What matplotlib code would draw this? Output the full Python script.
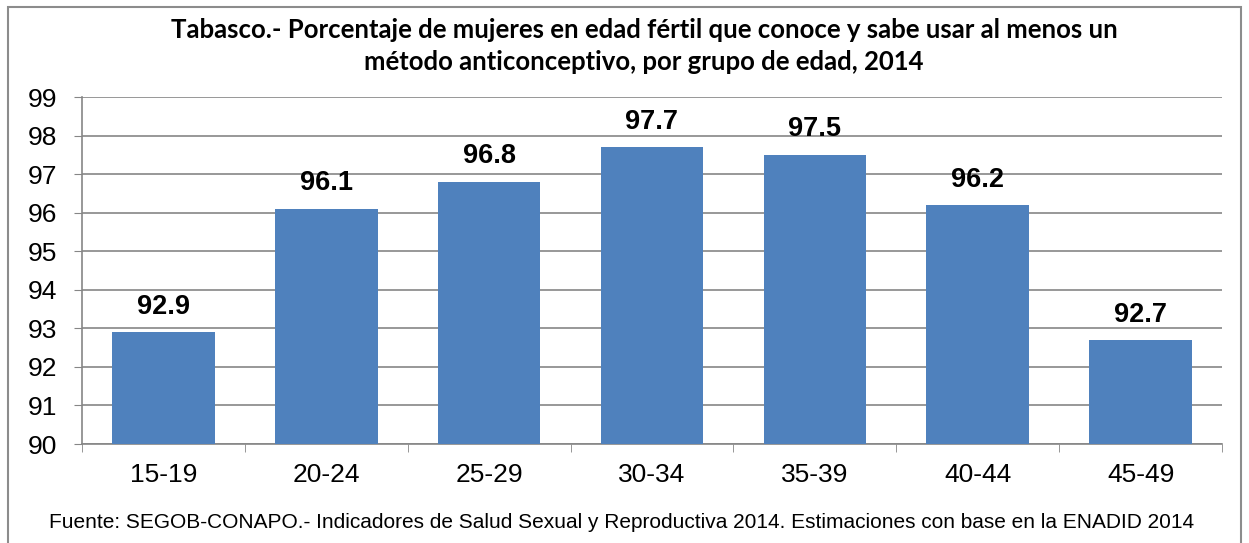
import matplotlib
matplotlib.use("Agg")
import matplotlib.pyplot as plt
from matplotlib.patches import Rectangle

grupos = ["15-19", "20-24", "25-29", "30-34", "35-39", "40-44", "45-49"]
porcentajes = [92.9, 96.1, 96.8, 97.7, 97.5, 96.2, 92.7]
yticks = [90, 91, 92, 93, 94, 95, 96, 97, 98, 99]

titulo = ("Tabasco.- Porcentaje de mujeres en edad fértil que conoce y sabe usar al menos un\n"
          "método anticonceptivo, por grupo de edad, 2014")
fuente = ("Fuente: SEGOB-CONAPO.- Indicadores de Salud Sexual y Reproductiva 2014. "
          "Estimaciones con base en la ENADID 2014")

W, H = 1249, 543
fig = plt.figure(figsize=(W / 100, H / 100), dpi=100)

# outer chart border
fig.patches.append(Rectangle((8 / W, -0.01), 1233 / W, 1 - 7 / H + 0.01,
                             transform=fig.transFigure, fill=False,
                             edgecolor="#8c8c8c", linewidth=1.5))

ax = fig.add_axes([82 / W, 1 - 444 / H, (1222 - 82) / W, (444 - 97) / H])

x = range(len(grupos))
ax.bar(x, porcentajes, width=0.63, color="#4F81BD", zorder=3)
for i, v in zip(x, porcentajes):
    ax.text(i, v + 0.32, f"{v:.1f}", ha="center", va="bottom",
            fontsize=19.5, fontweight="bold", family="Liberation Sans")

ax.set_xlim(-0.5, len(grupos) - 0.5)
ax.set_ylim(90, 99)
ax.set_yticks(yticks)
ax.set_yticklabels([str(t) for t in yticks], family="Liberation Sans", fontsize=19)
ax.set_xticks(x)
ax.set_xticklabels(grupos, family="Liberation Sans", fontsize=19)
ax.set_xticks([i - 0.5 for i in range(len(grupos) + 1)], minor=True)
ax.tick_params(axis="x", which="major", length=0, pad=14)
ax.tick_params(axis="x", which="minor", length=6, color="#868686")
ax.tick_params(axis="y", length=6, color="#868686", pad=12)
ax.yaxis.grid(True, color="#868686", linewidth=1.2, zorder=0)
for s in ["top", "right"]:
    ax.spines[s].set_visible(False)
for s in ["left", "bottom"]:
    ax.spines[s].set_color("#868686")
    ax.spines[s].set_linewidth(1.2)

fig.text(644 / W, 1 - 46 / H, titulo, ha="center", va="center",
         fontsize=18.5, fontweight="bold", family="Lato", linespacing=1.38)
fig.text(622 / W, 1 - 522 / H, fuente, ha="center", va="center",
         fontsize=15, family="Liberation Sans")

fig.savefig("out.png", dpi=100)
